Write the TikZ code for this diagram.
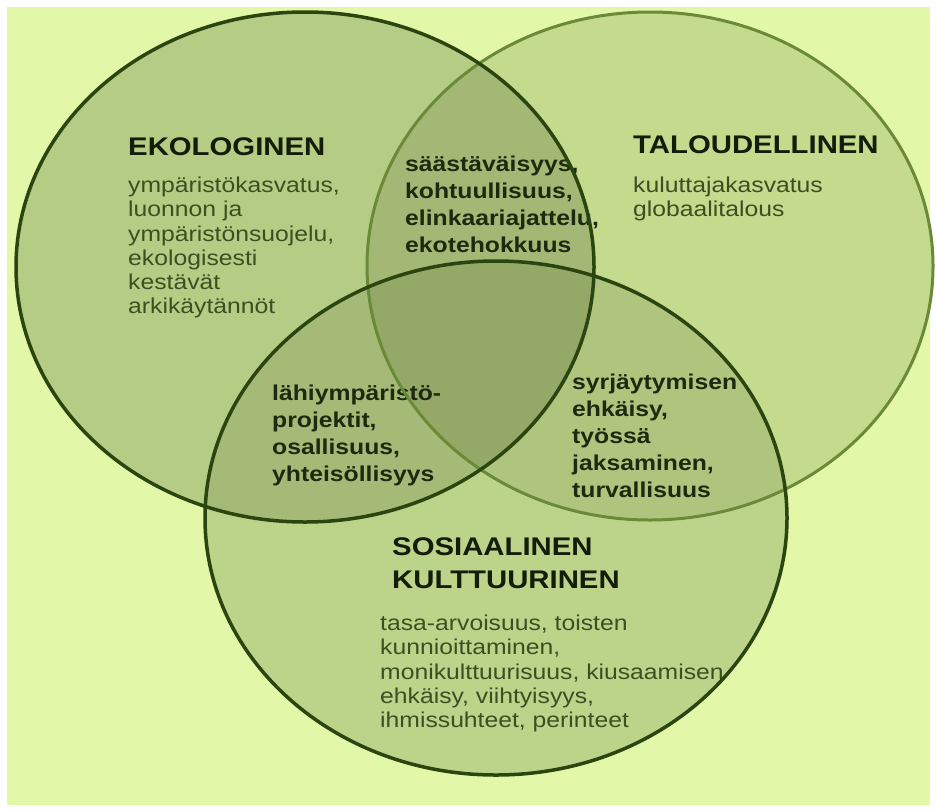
\documentclass[tikz,border=0pt]{standalone}
\usepackage{fontspec}
\setmainfont{Liberation Sans}[FakeStretch=1.15]

\definecolor{tausta}{HTML}{E2F8A8}
\definecolor{ekovari}{HTML}{B5CC84}
\definecolor{talousvari}{HTML}{C4DB8E}
\definecolor{sosvari}{HTML}{BCD38A}
\definecolor{ekotalous}{HTML}{A3B874}
\definecolor{ekosos}{HTML}{A5BA76}
\definecolor{taloussos}{HTML}{AFC57E}
\definecolor{kaikki}{HTML}{94A968}
\definecolor{tummaviiva}{HTML}{2B4510}
\definecolor{vaaleaviiva}{HTML}{6A8A38}
\definecolor{otsikkovari}{HTML}{141C0A}
\definecolor{tekstivari}{HTML}{3D4F22}
\definecolor{yhteisvari}{HTML}{1E2A10}

\begin{document}
\begin{tikzpicture}[x=1pt,y=-1pt,
	otsikko/.style={anchor=north west,inner sep=0pt,align=left,text=otsikkovari,font=\bfseries\fontsize{25.5}{33}\selectfont},
	teksti/.style={anchor=north west,inner sep=0pt,align=left,text=tekstivari,font=\fontsize{21.5}{24.2}\selectfont},
	yhteinen/.style={anchor=north west,inner sep=0pt,align=left,text=yhteisvari,font=\bfseries\fontsize{21.5}{27}\selectfont}]

		\useasboundingbox (0,0) rectangle (936,809);
		\fill [white] (0,0) rectangle (936,809);
		\fill [tausta] (7,7) rectangle (930,805);

		\coordinate (E) at (305,267) ;
		\coordinate (T) at (650,266) ;
		\coordinate (S) at (496,518) ;

		% pohjavarit
		\fill [talousvari] (T) ellipse [x radius=283pt, y radius=254pt];
		\fill [ekovari] (E) ellipse [x radius=289pt, y radius=255pt];
		\fill [sosvari] (S) ellipse [x radius=291pt, y radius=257pt];

		\begin{scope}
			\clip (E) ellipse [x radius=289pt, y radius=255pt];
			\fill [ekotalous] (T) ellipse [x radius=283pt, y radius=254pt];
			\fill [ekosos] (S) ellipse [x radius=291pt, y radius=257pt];
			\clip (T) ellipse [x radius=283pt, y radius=254pt];
			\fill [kaikki] (S) ellipse [x radius=291pt, y radius=257pt];
		\end{scope}
		\begin{scope}
			\clip (T) ellipse [x radius=283pt, y radius=254pt];
			\clip (S) ellipse [x radius=291pt, y radius=257pt];
			\fill [taloussos] (-10,-10) rectangle (950,820);
			\clip (E) ellipse [x radius=289pt, y radius=255pt];
			\fill [kaikki] (-10,-10) rectangle (950,820);
		\end{scope}

		\node (ekoots) [otsikko] at (128,137) {EKOLOGINEN};
		\node (ekoteksti) [teksti] at (128,177) {ympäristökasvatus,\\luonnon ja\\ympäristönsuojelu,\\ekologisesti\\kestävät\\arkikäytännöt};

		\node (talots) [otsikko] at (633,135) {TALOUDELLINEN};
		\node (talteksti) [teksti] at (633,177) {kuluttajakasvatus\\globaalitalous};

		\node (sosots) [otsikko] at (392,537) {SOSIAALINEN\\KULTTUURINEN};
		\node (sosteksti) [teksti] at (380,615) {tasa-arvoisuus, toisten\\kunnioittaminen,\\monikulttuurisuus, kiusaamisen\\ehkäisy, viihtyisyys,\\ihmissuhteet, perinteet};

		\node (ekotal) [yhteinen] at (405,156) {säästäväisyys,\\kohtuullisuus,\\elinkaariajattelu,\\ekotehokkuus};
		\node (ekosos) [yhteinen] at (272,385) {lähiympäristö-\\projektit,\\osallisuus,\\yhteisöllisyys};
		\node (talsos) [yhteinen] at (572,374) {syrjäytymisen\\ehkäisy,\\työssä\\jaksaminen,\\turvallisuus};

		\draw [vaaleaviiva, line width=3pt] (T) ellipse [x radius=283pt, y radius=254pt];
		\draw [tummaviiva, line width=3.5pt] (E) ellipse [x radius=289pt, y radius=255pt];
		\draw [tummaviiva, line width=3.5pt] (S) ellipse [x radius=291pt, y radius=257pt];

\end{tikzpicture}
\end{document}
